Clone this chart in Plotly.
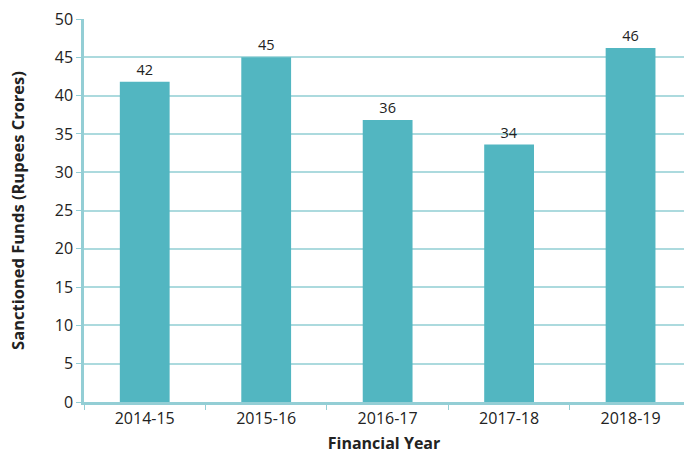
import plotly.graph_objects as go

years = ["2014-15", "2015-16", "2016-17", "2017-18", "2018-19"]
funds = [41.8, 45.0, 36.8, 33.6, 46.2]
fund_labels = ["42", "45", "36", "34", "46"]

BAR_COLOR = "#52b6c1"
GRID_COLOR = "#acdade"
AXIS_COLOR = "#93ced5"

fig = go.Figure()
fig.add_trace(go.Bar(
    x=years,
    y=funds,
    text=fund_labels,
    textposition="outside",
    textfont=dict(size=14.5, color="#222222"),
    marker=dict(color=BAR_COLOR, line=dict(width=0)),
    width=0.41,
    cliponaxis=False,
))

fig.update_layout(
    width=684, height=454,
    margin=dict(l=84, r=0, t=19, b=52),
    paper_bgcolor="white",
    plot_bgcolor="white",
    font=dict(family="Open Sans, Noto Sans, sans-serif", color="#222222"),
    showlegend=False,
)
fig.update_xaxes(
    type="category",
    range=[-0.5, 4.44],
    title=dict(text="<b>Financial Year</b>", font=dict(size=16), standoff=12),
    tickfont=dict(size=16),
    showline=True, linecolor=AXIS_COLOR, linewidth=2.5,
    tickson="boundaries", ticks="outside", ticklen=5, tickcolor=AXIS_COLOR,
    showgrid=False, automargin=False,
)
fig.update_yaxes(
    range=[0, 50],
    dtick=5,
    title=dict(text="<b>Sanctioned Funds (Rupees Crores)</b>", font=dict(size=16.5), standoff=26),
    tickfont=dict(size=16),
    showline=True, linecolor=AXIS_COLOR, linewidth=2.5,
    ticks="outside", ticklen=5, tickcolor=AXIS_COLOR,
    gridcolor=GRID_COLOR, gridwidth=1.5,
    zeroline=False, automargin=False,
)

# drop the default page margin so the figure sits at the window corner
fig.write_html("out.html", config={"displayModeBar": False},
               post_script="document.body.style.margin='0';")
